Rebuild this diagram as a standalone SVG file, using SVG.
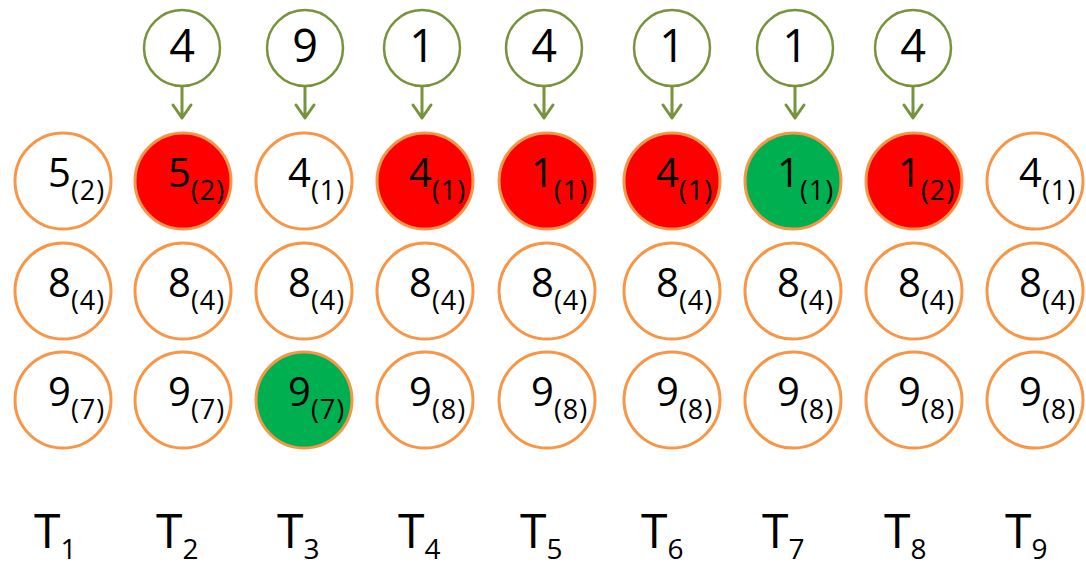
<svg xmlns="http://www.w3.org/2000/svg" width="1086" height="565" viewBox="0 0 1086 565">
  <style>
    .cell { stroke: #F79646; stroke-width: 3; fill: #FFFFFF; }
    .cell.red { fill: #FF0000; }
    .cell.green { fill: #00B050; }
    .key { stroke: #77933C; stroke-width: 2.5; fill: #FFFFFF; }
    .conn { stroke: #77933C; stroke-width: 3; fill: none; stroke-linecap: round; stroke-linejoin: round; }
    text { font-family: "Open Sans", "DejaVu Sans", sans-serif; fill: #000000; }
    .val { font-size: 40px; }
    .sub { font-size: 27px; letter-spacing: 1px; }
    .keytxt { font-size: 45px; text-anchor: middle; }
    .lbl { font-size: 48px; }
    .lsub { font-size: 28px; }
  </style>

  <!-- incoming keys -->
  <g id="key-2"><circle class="key" cx="182" cy="48" r="38"/><text class="keytxt" x="182" y="62">4</text></g>
  <g id="key-3"><circle class="key" cx="305" cy="48" r="38"/><text class="keytxt" x="305" y="62">9</text></g>
  <g id="key-4"><circle class="key" cx="422" cy="48" r="38"/><text class="keytxt" x="422" y="62">1</text></g>
  <g id="key-5"><circle class="key" cx="544" cy="48" r="38"/><text class="keytxt" x="544" y="62">4</text></g>
  <g id="key-6"><circle class="key" cx="672" cy="48" r="38"/><text class="keytxt" x="672" y="62">1</text></g>
  <g id="key-7"><circle class="key" cx="795" cy="48" r="38"/><text class="keytxt" x="795" y="62">1</text></g>
  <g id="key-8"><circle class="key" cx="913" cy="48" r="38"/><text class="keytxt" x="913" y="62">4</text></g>

  <!-- arrows from keys into the top cell -->
  <g id="connectors">
    <path class="conn" d="M182 87 V118 M173 105 L182 118 L191 105"/>
    <path class="conn" d="M305 87 V118 M296 105 L305 118 L314 105"/>
    <path class="conn" d="M422 87 V118 M413 105 L422 118 L431 105"/>
    <path class="conn" d="M544 87 V118 M535 105 L544 118 L553 105"/>
    <path class="conn" d="M672 87 V118 M663 105 L672 118 L681 105"/>
    <path class="conn" d="M795 87 V118 M786 105 L795 118 L804 105"/>
    <path class="conn" d="M913 87 V118 M904 105 L913 118 L922 105"/>
  </g>

  <!-- T1 -->
  <g id="t1-r1"><circle class="cell" cx="63" cy="181" r="48"/><text class="val" x="48" y="187">5<tspan class="sub" dy="13">(2)</tspan></text></g>
  <g id="t1-r2"><circle class="cell" cx="63" cy="291" r="48"/><text class="val" x="48" y="297">8<tspan class="sub" dy="13">(4)</tspan></text></g>
  <g id="t1-r3"><circle class="cell" cx="63" cy="400" r="48"/><text class="val" x="48" y="406">9<tspan class="sub" dy="13">(7)</tspan></text></g>
  <!-- T2 -->
  <g id="t2-r1"><circle class="cell red" cx="183" cy="181" r="48"/><text class="val" x="168" y="187">5<tspan class="sub" dy="13">(2)</tspan></text></g>
  <g id="t2-r2"><circle class="cell" cx="183" cy="291" r="48"/><text class="val" x="168" y="297">8<tspan class="sub" dy="13">(4)</tspan></text></g>
  <g id="t2-r3"><circle class="cell" cx="183" cy="400" r="48"/><text class="val" x="168" y="406">9<tspan class="sub" dy="13">(7)</tspan></text></g>
  <!-- T3 -->
  <g id="t3-r1"><circle class="cell" cx="304" cy="181" r="48"/><text class="val" x="288" y="187">4<tspan class="sub" dy="13">(1)</tspan></text></g>
  <g id="t3-r2"><circle class="cell" cx="304" cy="291" r="48"/><text class="val" x="288" y="297">8<tspan class="sub" dy="13">(4)</tspan></text></g>
  <g id="t3-r3"><circle class="cell green" cx="304" cy="400" r="48"/><text class="val" x="288" y="406">9<tspan class="sub" dy="13">(7)</tspan></text></g>
  <!-- T4 -->
  <g id="t4-r1"><circle class="cell red" cx="425" cy="181" r="48"/><text class="val" x="409" y="187">4<tspan class="sub" dy="13">(1)</tspan></text></g>
  <g id="t4-r2"><circle class="cell" cx="425" cy="291" r="48"/><text class="val" x="409" y="297">8<tspan class="sub" dy="13">(4)</tspan></text></g>
  <g id="t4-r3"><circle class="cell" cx="425" cy="400" r="48"/><text class="val" x="409" y="406">9<tspan class="sub" dy="13">(8)</tspan></text></g>
  <!-- T5 -->
  <g id="t5-r1"><circle class="cell red" cx="547" cy="181" r="48"/><text class="val" x="531" y="187">1<tspan class="sub" dy="13">(1)</tspan></text></g>
  <g id="t5-r2"><circle class="cell" cx="547" cy="291" r="48"/><text class="val" x="531" y="297">8<tspan class="sub" dy="13">(4)</tspan></text></g>
  <g id="t5-r3"><circle class="cell" cx="547" cy="400" r="48"/><text class="val" x="531" y="406">9<tspan class="sub" dy="13">(8)</tspan></text></g>
  <!-- T6 -->
  <g id="t6-r1"><circle class="cell red" cx="672" cy="181" r="48"/><text class="val" x="656" y="187">4<tspan class="sub" dy="13">(1)</tspan></text></g>
  <g id="t6-r2"><circle class="cell" cx="672" cy="291" r="48"/><text class="val" x="656" y="297">8<tspan class="sub" dy="13">(4)</tspan></text></g>
  <g id="t6-r3"><circle class="cell" cx="672" cy="400" r="48"/><text class="val" x="656" y="406">9<tspan class="sub" dy="13">(8)</tspan></text></g>
  <!-- T7 -->
  <g id="t7-r1"><circle class="cell green" cx="793" cy="181" r="48"/><text class="val" x="777" y="187">1<tspan class="sub" dy="13">(1)</tspan></text></g>
  <g id="t7-r2"><circle class="cell" cx="793" cy="291" r="48"/><text class="val" x="777" y="297">8<tspan class="sub" dy="13">(4)</tspan></text></g>
  <g id="t7-r3"><circle class="cell" cx="793" cy="400" r="48"/><text class="val" x="777" y="406">9<tspan class="sub" dy="13">(8)</tspan></text></g>
  <!-- T8 -->
  <g id="t8-r1"><circle class="cell red" cx="914" cy="181" r="48"/><text class="val" x="898" y="187">1<tspan class="sub" dy="13">(2)</tspan></text></g>
  <g id="t8-r2"><circle class="cell" cx="914" cy="291" r="48"/><text class="val" x="898" y="297">8<tspan class="sub" dy="13">(4)</tspan></text></g>
  <g id="t8-r3"><circle class="cell" cx="914" cy="400" r="48"/><text class="val" x="898" y="406">9<tspan class="sub" dy="13">(8)</tspan></text></g>
  <!-- T9 -->
  <g id="t9-r1"><circle class="cell" cx="1035" cy="181" r="48"/><text class="val" x="1019" y="187">4<tspan class="sub" dy="13">(1)</tspan></text></g>
  <g id="t9-r2"><circle class="cell" cx="1035" cy="291" r="48"/><text class="val" x="1019" y="297">8<tspan class="sub" dy="13">(4)</tspan></text></g>
  <g id="t9-r3"><circle class="cell" cx="1035" cy="400" r="48"/><text class="val" x="1019" y="406">9<tspan class="sub" dy="13">(8)</tspan></text></g>

  <!-- step labels -->
  <g id="labels">
    <text class="lbl" x="34" y="548">T<tspan class="lsub" dy="11">1</tspan></text>
    <text class="lbl" x="156" y="548">T<tspan class="lsub" dy="11">2</tspan></text>
    <text class="lbl" x="277" y="548">T<tspan class="lsub" dy="11">3</tspan></text>
    <text class="lbl" x="398" y="548">T<tspan class="lsub" dy="11">4</tspan></text>
    <text class="lbl" x="520" y="548">T<tspan class="lsub" dy="11">5</tspan></text>
    <text class="lbl" x="641" y="548">T<tspan class="lsub" dy="11">6</tspan></text>
    <text class="lbl" x="762" y="548">T<tspan class="lsub" dy="11">7</tspan></text>
    <text class="lbl" x="884" y="548">T<tspan class="lsub" dy="11">8</tspan></text>
    <text class="lbl" x="1005" y="548">T<tspan class="lsub" dy="11">9</tspan></text>
  </g>
</svg>
